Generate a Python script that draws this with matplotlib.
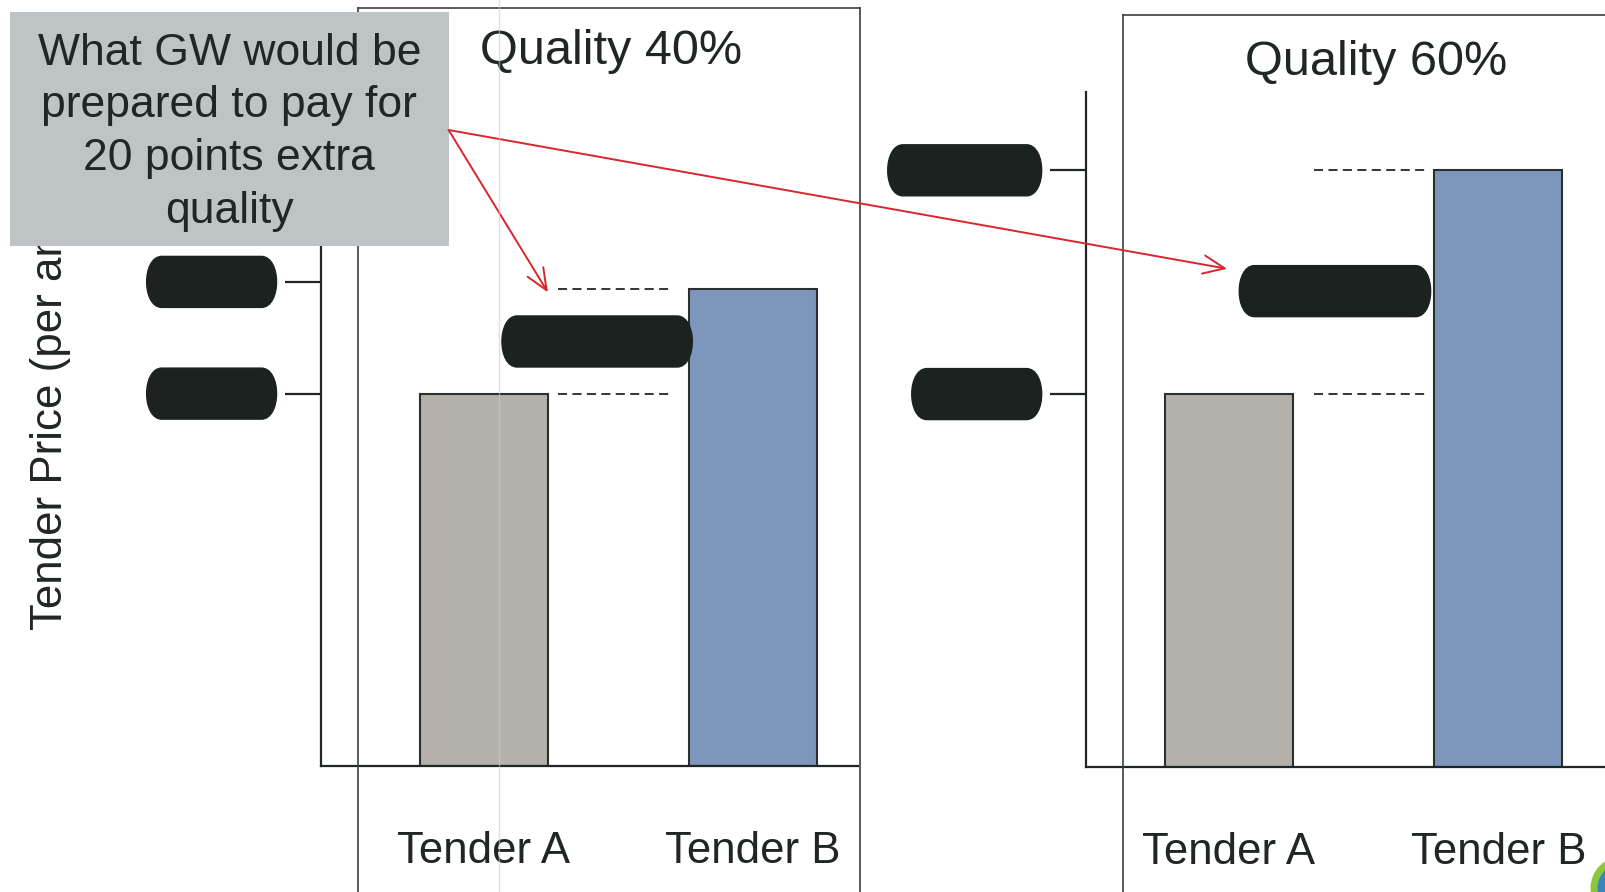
import matplotlib
matplotlib.use("Agg")
import matplotlib.pyplot as plt
from matplotlib.patches import Rectangle, PathPatch, Circle, ConnectionPatch
from matplotlib.path import Path
from matplotlib.lines import Line2D
from matplotlib.transforms import IdentityTransform

plt.rcParams["font.family"] = ["Liberation Sans", "DejaVu Sans"]

# ── data ─────────────────────────────────────────────────────────────────────
tenders       = ["Tender A", "Tender B"]
panel_titles  = ["Quality 40%", "Quality 60%"]
price_q40     = [100, 128]
price_q60     = [100, 160]
ticks_q40     = [100, 130]
ticks_q60     = [100, 160]
price_label   = "Tender Price (per annum)"
callout_lines = ["What GW would be", "prepared to pay for", "20 points extra", "quality"]

BAR_COLORS = ["#B4B1AA", "#7C96BC"]
INK   = "#1F2624"
BLOB  = "#1B2220"
RED   = "#D8262C"
BOXC  = "#BEC3C6"

W, H = 1606, 892
YMAX = 181
BAR_W = 0.476


def fx(x):
    return x / W


def fy(y):
    return 1 - y / H


def blob(fig, x0, x1, yc, h=51):
    """Dark redaction pill in display pixels, with bulging ends."""
    b = 0.3 * h
    k = 1.33 * b
    yt, yb = yc + h / 2, yc - h / 2
    verts = [(x0 + b, yt), (x1 - b, yt),
             (x1 - b + k, yt), (x1 - b + k, yb), (x1 - b, yb),
             (x0 + b, yb),
             (x0 + b - k, yb), (x0 + b - k, yt), (x0 + b, yt),
             (x0 + b, yt)]
    codes = [Path.MOVETO, Path.LINETO,
             Path.CURVE4, Path.CURVE4, Path.CURVE4,
             Path.LINETO,
             Path.CURVE4, Path.CURVE4, Path.CURVE4,
             Path.CLOSEPOLY]
    fig.add_artist(PathPatch(Path(verts, codes), facecolor=BLOB, edgecolor=BLOB,
                             lw=1, transform=IdentityTransform(), zorder=3))


fig = plt.figure(figsize=(W / 100, H / 100), dpi=100)
fig.patch.set_facecolor("white")

ax1 = fig.add_axes([fx(320.6), fy(766), (858.3 - 320.6) / W, (766 - 92) / H])
ax2 = fig.add_axes([fx(1085.7), fy(767), (W - 1085.7) / W, (767 - 92) / H])

# axes, prices, ticks, xlim, dashed-guide span, difference-blob span, its height share, tick blob widths
panels = [
    (ax1, price_q40, ticks_q40, (-0.607, 1.392), (0.276, 0.696), (0.067, 0.775), 0.50, [130, 130]),
    (ax2, price_q60, ticks_q60, (-0.532, 1.400), (0.316, 0.727), (0.038, 0.749), 0.46, [130, 154]),
]

for ax, prices, ticks, xlim, dash_x, mid_x, mid_f, tick_blob_w in panels:
    ax.patch.set_visible(False)
    ax.bar([0, 1], prices, width=BAR_W, color=BAR_COLORS,
           edgecolor="#2A302E", linewidth=1.5, zorder=2)
    for p in prices:
        ax.hlines(p, dash_x[0], dash_x[1], colors=INK, linestyles=(0, (5, 3)), lw=1.3)
    ax.set_xlim(*xlim)
    ax.set_ylim(0, YMAX)
    for s in ["top", "right"]:
        ax.spines[s].set_visible(False)
    for s in ["left", "bottom"]:
        ax.spines[s].set_color(INK)
        ax.spines[s].set_linewidth(1.6)
    ax.set_yticks(ticks)
    ax.set_yticklabels([])
    ax.tick_params(axis="y", length=26, width=1.6, color=INK, direction="out")
    ax.set_xticks([0, 1])
    ax.set_xticklabels(tenders, fontsize=31.5, color=INK)
    ax.tick_params(axis="x", length=0, pad=47)

    # redacted tick values
    ax_left = ax.transAxes.transform((0, 0))[0]
    for t, w in zip(ticks, tick_blob_w):
        yc = ax.transData.transform((0, t))[1]
        blob(fig, ax_left - 44 - w, ax_left - 44, yc)

    # redacted price difference
    mid = prices[0] + mid_f * (prices[1] - prices[0])
    xa, yc = ax.transData.transform((mid_x[0], mid))
    xb = ax.transData.transform((mid_x[1], mid))[0]
    blob(fig, xa, xb, yc)

# panel titles
fig.text(fx(611), fy(64), panel_titles[0], ha="center", va="baseline",
         fontsize=35, color=INK)
fig.text(fx(1376), fy(75), panel_titles[1], ha="center", va="baseline",
         fontsize=35, color=INK)

# y label (its upper end sits under the callout)
fig.text(fx(51), fy(630), price_label, rotation=90, ha="center", va="bottom",
         fontsize=31.6, color=INK, zorder=1)

# slide placeholder borders
frame_kw = dict(transform=fig.transFigure, color="#3A3F3E", lw=1.2, zorder=1)
fig.add_artist(Line2D([fx(358.5), fx(358.5)], [fy(892), fy(8.2)], **frame_kw))
fig.add_artist(Line2D([fx(358.5), fx(860)], [fy(8.2), fy(8.2)], **frame_kw))
fig.add_artist(Line2D([fx(860), fx(860)], [fy(8.2), fy(892)], **frame_kw))
fig.add_artist(Line2D([fx(1123.5), fx(1123.5)], [fy(892), fy(15.4)], **frame_kw))
fig.add_artist(Line2D([fx(1123.5), fx(W)], [fy(15.4), fy(15.4)], **frame_kw))

# callout box
fig.add_artist(Rectangle((fx(10.2), fy(245.8)), (448.6 - 10.2) / W, (245.8 - 12.3) / H,
                         transform=fig.transFigure, facecolor=BOXC,
                         edgecolor="none", zorder=4))
for i, line in enumerate(callout_lines):
    fig.text(fx(229.4), fy(65 + i * 52.5), line, ha="center", va="baseline",
             fontsize=32, color=INK, zorder=5)

# red arrows from the callout
arrow_kw = dict(coordsA="figure pixels", coordsB="data",
                arrowstyle="->,head_length=0.7,head_width=0.3",
                mutation_scale=22, color=RED, lw=1.4, shrinkA=0, shrinkB=0, zorder=6)
fig.add_artist(ConnectionPatch(xyA=(448.6, H - 130), xyB=(0.238, 127.2), axesB=ax1, **arrow_kw))
fig.add_artist(ConnectionPatch(xyA=(448.6, H - 130), xyB=(-0.007, 133.6), axesB=ax2, **arrow_kw))

# faint scanner streak
fig.add_artist(Line2D([fx(498.8), fx(498.8)], [0, 1], transform=fig.transFigure,
                      color="#CFCACA", lw=1, alpha=0.6, zorder=7))

# corner logo
fig.add_artist(Circle((1622, 4), 28, transform=IdentityTransform(),
                      facecolor="#3B86B8", edgecolor="#8CC63F", lw=5, zorder=3))

fig.savefig("out.png", dpi=100)
